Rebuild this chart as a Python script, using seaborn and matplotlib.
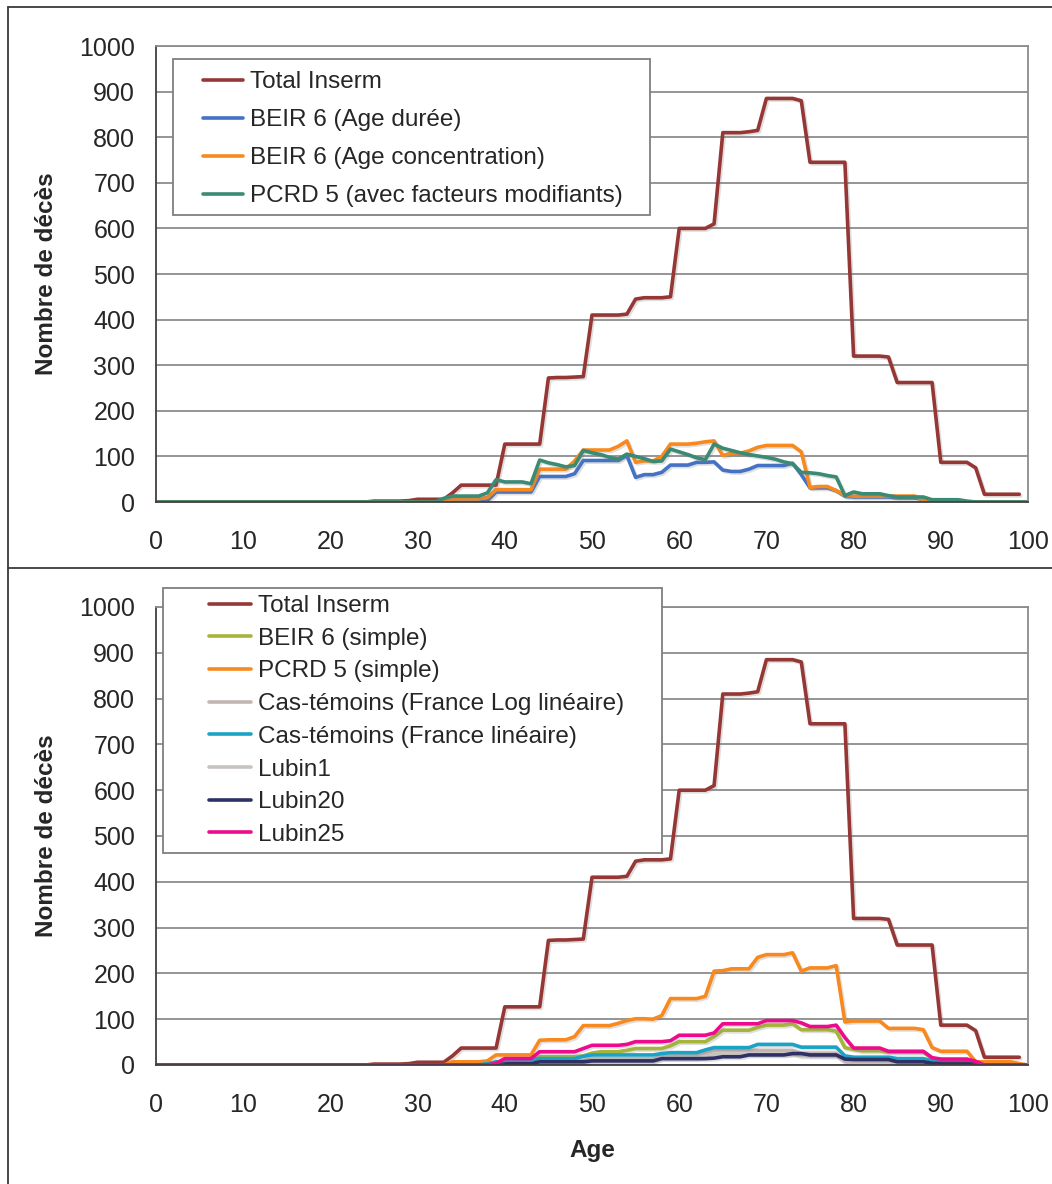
import matplotlib
matplotlib.use("Agg")
import matplotlib.pyplot as plt
import matplotlib.patheffects as pe
from matplotlib.lines import Line2D
from matplotlib.patches import Rectangle
import seaborn as sns

# ---------------------------------------------------------------- data
ages = list(range(0, 101))
ages_total = list(range(0, 100))

total_inserm = [
    0, 0, 0, 0, 0, 0, 0, 0, 0, 0,
    0, 0, 0, 0, 0, 0, 0, 0, 0, 0,
    0, 0, 0, 0, 0, 2, 2, 2, 2, 3,
    6, 6, 6, 6, 20, 37, 37, 37, 37, 37,
    127, 127, 127, 127, 127, 272, 273, 273, 274, 275,
    410, 410, 410, 410, 412, 445, 448, 448, 448, 450,
    600, 600, 600, 600, 610, 810, 810, 810, 812, 815,
    885, 885, 885, 885, 880, 745, 745, 745, 745, 745,
    320, 320, 320, 320, 318, 262, 262, 262, 262, 262,
    87, 87, 87, 87, 75, 17, 17, 17, 17, 17,
]

# upper panel
beir6_age_duree = [
    0, 0, 0, 0, 0, 0, 0, 0, 0, 0,
    0, 0, 0, 0, 0, 0, 0, 0, 0, 0,
    0, 0, 0, 0, 0, 0, 0, 0, 0, 0,
    0, 0, 0, 0, 0, 0, 0, 0, 3, 22,
    22, 22, 22, 22, 56, 56, 56, 56, 62, 91,
    91, 91, 91, 91, 102, 54, 60, 60, 65, 81,
    81, 81, 87, 87, 88, 70, 67, 67, 72, 80,
    80, 80, 80, 85, 60, 31, 31, 31, 25, 13,
    11, 11, 11, 11, 11, 9, 9, 9, 6, 1,
    0, 0, 0, 0, 0, 0, 0, 0, 0, 0, 0,
]
beir6_age_concentration = [
    0, 0, 0, 0, 0, 0, 0, 0, 0, 0,
    0, 0, 0, 0, 0, 0, 0, 0, 0, 0,
    0, 0, 0, 0, 0, 0, 0, 0, 0, 0,
    0, 0, 0, 0, 7, 7, 7, 7, 10, 27,
    27, 27, 27, 27, 72, 72, 72, 72, 90, 114,
    114, 114, 114, 122, 134, 87, 90, 90, 100, 127,
    127, 127, 129, 132, 134, 102, 107, 107, 112, 120,
    124, 124, 124, 124, 110, 32, 34, 34, 25, 14,
    13, 13, 13, 13, 13, 13, 13, 13, 5, 0,
    0, 0, 0, 0, 0, 0, 0, 0, 0, 0, 0,
]
pcrd5_facteurs = [
    0, 0, 0, 0, 0, 0, 0, 0, 0, 0,
    0, 0, 0, 0, 0, 0, 0, 0, 0, 0,
    0, 0, 0, 0, 0, 0, 0, 0, 0, 0,
    0, 0, 0, 8, 13, 13, 13, 13, 20, 49,
    44, 44, 44, 40, 92, 86, 82, 77, 80, 113,
    108, 104, 98, 94, 105, 100, 95, 89, 90, 116,
    110, 104, 97, 93, 127, 118, 113, 108, 104, 101,
    98, 94, 88, 84, 65, 64, 62, 58, 55, 14,
    22, 18, 18, 18, 14, 11, 11, 11, 11, 5,
    5, 5, 5, 2, 0, 0, 0, 0, 0, 0, 0,
]

# lower panel
beir6_simple = [
    0, 0, 0, 0, 0, 0, 0, 0, 0, 0,
    0, 0, 0, 0, 0, 0, 0, 0, 0, 0,
    0, 0, 0, 0, 0, 0, 0, 0, 0, 0,
    0, 0, 0, 0, 0, 0, 0, 0, 0, 3,
    9, 9, 9, 9, 18, 18, 18, 18, 18, 20,
    26, 29, 29, 29, 32, 36, 36, 36, 36, 42,
    51, 51, 51, 51, 62, 76, 76, 76, 76, 82,
    87, 87, 87, 90, 77, 77, 77, 77, 74, 38,
    34, 31, 31, 31, 28, 28, 28, 28, 28, 14,
    11, 11, 11, 11, 5, 0, 0, 0, 0, 0, 0,
]
pcrd5_simple = [
    0, 0, 0, 0, 0, 0, 0, 0, 0, 0,
    0, 0, 0, 0, 0, 0, 0, 0, 0, 0,
    0, 0, 0, 0, 0, 0, 0, 0, 0, 0,
    0, 0, 0, 0, 7, 7, 7, 7, 9, 22,
    22, 22, 22, 22, 54, 55, 55, 55, 62, 86,
    86, 86, 86, 91, 97, 101, 101, 100, 108, 145,
    145, 145, 145, 150, 205, 206, 210, 210, 210, 235,
    241, 241, 241, 245, 205, 212, 212, 212, 217, 94,
    96, 96, 96, 96, 80, 80, 80, 80, 77, 38,
    30, 30, 30, 30, 7, 7, 7, 7, 7, 3, 0,
]
cas_temoins_log_lineaire = [
    0, 0, 0, 0, 0, 0, 0, 0, 0, 0,
    0, 0, 0, 0, 0, 0, 0, 0, 0, 0,
    0, 0, 0, 0, 0, 0, 0, 0, 0, 0,
    0, 0, 0, 0, 0, 0, 0, 0, 0, 0,
    5, 5, 5, 5, 9, 9, 9, 9, 9, 9,
    13, 13, 13, 13, 13, 13, 13, 13, 20, 20,
    20, 20, 20, 26, 32, 32, 32, 32, 32, 32,
    32, 32, 32, 32, 26, 26, 26, 26, 26, 11,
    10, 10, 10, 10, 10, 6, 6, 6, 6, 6,
    6, 6, 6, 6, 0, 0, 0, 0, 0, 0, 0,
]
cas_temoins_lineaire = [
    0, 0, 0, 0, 0, 0, 0, 0, 0, 0,
    0, 0, 0, 0, 0, 0, 0, 0, 0, 0,
    0, 0, 0, 0, 0, 0, 0, 0, 0, 0,
    0, 0, 0, 0, 0, 0, 0, 0, 3, 7,
    7, 7, 7, 10, 14, 14, 14, 14, 14, 19,
    22, 22, 22, 22, 22, 22, 22, 22, 25, 27,
    27, 27, 27, 33, 38, 38, 38, 38, 38, 45,
    45, 45, 45, 45, 39, 39, 39, 39, 39, 20,
    17, 17, 17, 17, 17, 14, 14, 14, 14, 9,
    9, 9, 9, 9, 4, 0, 0, 0, 0, 0, 0,
]
lubin1 = [
    0, 0, 0, 0, 0, 0, 0, 0, 0, 0,
    0, 0, 0, 0, 0, 0, 0, 0, 0, 0,
    0, 0, 0, 0, 0, 0, 0, 0, 0, 0,
    0, 0, 0, 0, 0, 0, 0, 0, 0, 0,
    3, 3, 3, 3, 6, 6, 6, 6, 6, 6,
    10, 10, 10, 10, 10, 10, 10, 10, 15, 15,
    15, 15, 15, 19, 24, 24, 24, 24, 24, 24,
    24, 24, 24, 24, 20, 20, 20, 20, 20, 7,
    4, 4, 4, 4, 4, 4, 4, 4, 4, 4,
    4, 4, 4, 4, 0, 0, 0, 0, 0, 0, 0,
]
lubin20 = [
    0, 0, 0, 0, 0, 0, 0, 0, 0, 0,
    0, 0, 0, 0, 0, 0, 0, 0, 0, 0,
    0, 0, 0, 0, 0, 0, 0, 0, 0, 0,
    0, 0, 0, 0, 0, 0, 0, 0, 0, 0,
    3, 3, 3, 3, 7, 7, 7, 7, 7, 7,
    9, 9, 9, 9, 9, 9, 9, 9, 14, 14,
    14, 14, 14, 14, 15, 18, 18, 18, 22, 22,
    22, 22, 22, 25, 25, 22, 22, 22, 22, 13,
    12, 12, 12, 12, 12, 7, 7, 7, 7, 4,
    4, 4, 4, 4, 2, 0, 0, 0, 0, 0, 0,
]
lubin25 = [
    0, 0, 0, 0, 0, 0, 0, 0, 0, 0,
    0, 0, 0, 0, 0, 0, 0, 0, 0, 0,
    0, 0, 0, 0, 0, 0, 0, 0, 0, 0,
    0, 0, 0, 0, 0, 0, 0, 0, 0, 4,
    14, 14, 14, 14, 29, 29, 29, 29, 29, 36,
    43, 43, 43, 43, 45, 51, 51, 51, 51, 53,
    65, 65, 65, 65, 70, 90, 90, 90, 90, 90,
    97, 97, 97, 97, 92, 84, 84, 84, 87, 60,
    37, 37, 37, 37, 30, 30, 30, 30, 30, 16,
    13, 13, 13, 13, 8, 0, 0, 0, 0, 0, 0,
]

top_series = [
    ("Total Inserm", ages_total, total_inserm, "#953735"),
    ("BEIR 6 (Age durée)", ages, beir6_age_duree, "#4472C4"),
    ("BEIR 6 (Age concentration)", ages, beir6_age_concentration, "#F7891F"),
    ("PCRD 5 (avec facteurs modifiants)", ages, pcrd5_facteurs, "#3A8A74"),
]
bottom_series = [
    ("Total Inserm", ages_total, total_inserm, "#953735"),
    ("BEIR 6 (simple)", ages, beir6_simple, "#A6B43C"),
    ("PCRD 5 (simple)", ages, pcrd5_simple, "#F7891F"),
    ("Cas-témoins (France Log linéaire)", ages, cas_temoins_log_lineaire, "#C2B5B2"),
    ("Cas-témoins (France linéaire)", ages, cas_temoins_lineaire, "#1BA3C6"),
    ("Lubin1", ages, lubin1, "#C9C3BF"),
    ("Lubin20", ages, lubin20, "#2E3066"),
    ("Lubin25", ages, lubin25, "#EE0A8C"),
]

x_ticks = list(range(0, 101, 10))
y_ticks = list(range(0, 1001, 100))

# ---------------------------------------------------------------- style
sns.set_style("white")
plt.rcParams["font.family"] = ["Liberation Sans", "DejaVu Sans"]

W, H = 1052, 1184
FS = 17.5
TICK_FS = 18
TXT = "#262626"
fig = plt.figure(figsize=(W / 100, H / 100), dpi=100)


def px_axes(left, top, right, bottom):
    return fig.add_axes([left / W, 1 - bottom / H, (right - left) / W, (bottom - top) / H])


def fx(x):
    return x / W


def fy(y):
    return 1 - y / H


ax_top = px_axes(156, 46, 1028, 502)
ax_bot = px_axes(156, 607, 1028, 1065)

shadow = [pe.SimpleLineShadow(offset=(1.2, -1.2), shadow_color="#808080", alpha=0.25),
          pe.Normal()]


def draw_panel(ax, series):
    for label, xs, ys, color in series:
        sns.lineplot(x=xs, y=ys, ax=ax, color=color, linewidth=2.6, label=label,
                     errorbar=None, legend=False)
        line = ax.lines[-1]
        line.set_solid_joinstyle("round")
        line.set_solid_capstyle("round")
        line.set_path_effects(shadow)
    ax.set_xlim(0, 100)
    ax.set_ylim(0, 1000)
    ax.set_xticks(x_ticks)
    ax.set_yticks(y_ticks)
    ax.yaxis.grid(True, color="#8c8c8c", linewidth=1.3)
    ax.xaxis.grid(False)
    ax.set_axisbelow(True)
    for s in ("top", "right"):
        ax.spines[s].set_color("#8c8c8c")
        ax.spines[s].set_linewidth(1.3)
    for s in ("left", "bottom"):
        ax.spines[s].set_color("#404040")
        ax.spines[s].set_linewidth(1.3)
    ax.tick_params(axis="both", direction="out", length=8, width=1.2, color="#404040",
                   labelsize=TICK_FS, labelcolor=TXT)
    ax.tick_params(axis="x", pad=12)
    ax.tick_params(axis="y", pad=6, length=9)
    ax.set_xlabel("")
    ax.set_ylabel("Nombre de décès", fontsize=FS, fontweight="bold", color=TXT)
    ax.yaxis.set_label_coords(-0.1124, 0.5)


def draw_legend(ax, box, anchor, handlelength, labelspacing):
    left, top, right, bottom = box
    ax.add_patch(Rectangle((fx(left), fy(bottom)), (right - left) / W, (bottom - top) / H,
                           transform=fig.transFigure, facecolor="white",
                           edgecolor="#7f7f7f", linewidth=1.3, zorder=4, clip_on=False))
    handles, labels = ax.get_legend_handles_labels()
    leg = ax.legend(handles, labels, loc="upper left",
                    bbox_to_anchor=(fx(anchor[0]), fy(anchor[1])),
                    bbox_transform=fig.transFigure, frameon=False, borderpad=0,
                    borderaxespad=0, handlelength=handlelength, handletextpad=0.29,
                    labelspacing=labelspacing, fontsize=FS, labelcolor=TXT)
    for h in leg.get_lines():
        h.set_linewidth(2.6)
        h.set_path_effects([])
    leg.set_zorder(5)


draw_panel(ax_top, top_series)
draw_panel(ax_bot, bottom_series)

draw_legend(ax_top, (173, 59, 650, 215), (203, 71), 1.65, 0.66)
draw_legend(ax_bot, (163, 588, 662, 853), (209, 595), 1.73, 0.44)

ax_bot.set_xlabel("Age", fontsize=FS, fontweight="bold", color=TXT)
ax_bot.xaxis.set_label_coords(0.5, -0.161)

# panel frames
frame_kw = dict(color="#3a3a3a", linewidth=1.3, transform=fig.transFigure)
fig.add_artist(Line2D([fx(8), fx(8)], [fy(7), 0], **frame_kw))
fig.add_artist(Line2D([fx(8), 1], [fy(7), fy(7)], **frame_kw))
fig.add_artist(Line2D([fx(8), 1], [fy(568), fy(568)], **frame_kw))

fig.savefig("out.png", dpi=100, facecolor="white")
